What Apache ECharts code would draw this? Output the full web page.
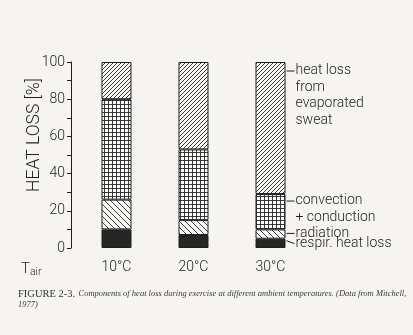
<!DOCTYPE html>
<html>
<head>
<meta charset="utf-8">
<script src="https://cdn.jsdelivr.net/npm/echarts@6/dist/echarts.min.js"></script>
<style>
  html, body { margin: 0; padding: 0; background: #f5f4f1; }
  #chart { width: 413px; height: 335px; }
</style>
</head>
<body>
<div id="chart"></div>
<script>
// Components of heat loss (% of total) at three ambient temperatures
const categories = ['10°C', '20°C', '30°C'];
const respir     = [10, 7, 5];
const radiation  = [16, 8, 5];
const convection = [54, 38, 19];
const sweat      = [20, 47, 71];
const yTicks     = [0, 20, 40, 60, 80, 100];

const PAPER = '#f5f4f1';
const INK = '#1f1f1f';
const FONT = 'Roboto';

// Small repeating tiles for the hatched fills
function tile(size, draw) {
  const c = document.createElement('canvas');
  c.width = size; c.height = size;
  const g = c.getContext('2d');
  g.fillStyle = '#fbfaf7';
  g.fillRect(0, 0, size, size);
  g.strokeStyle = '#262626';
  g.lineWidth = 0.9;
  draw(g, size);
  return c;
}
function forwardHatch(s) {          // "/" lines
  return tile(s, (g, n) => {
    g.beginPath();
    g.moveTo(0, n); g.lineTo(n, 0);
    g.moveTo(-1, 1); g.lineTo(1, -1);
    g.moveTo(n - 1, n + 1); g.lineTo(n + 1, n - 1);
    g.stroke();
  });
}
function backHatch(s) {             // "\" lines
  return tile(s, (g, n) => {
    g.beginPath();
    g.moveTo(0, 0); g.lineTo(n, n);
    g.moveTo(n - 1, -1); g.lineTo(n + 1, 1);
    g.moveTo(-1, n - 1); g.lineTo(1, n + 1);
    g.stroke();
  });
}
function crossGrid(s) {             // square mesh
  return tile(s, (g, n) => {
    g.beginPath();
    g.moveTo(0, 0.5); g.lineTo(n, 0.5);
    g.moveTo(0.5, 0); g.lineTo(0.5, n);
    g.stroke();
  });
}

const fills = {
  respir: '#262626',
  radiation: { image: backHatch(6), repeat: 'repeat' },
  convection: { image: crossGrid(4), repeat: 'repeat' },
  sweat: { image: forwardHatch(4), repeat: 'repeat' }
};

function seg(name, data, color) {
  return {
    name, type: 'bar', stack: 'total', data,
    barWidth: 30,
    itemStyle: { color, borderColor: INK, borderWidth: 1 },
    emphasis: { disabled: true }
  };
}

const chart = echarts.init(document.getElementById('chart'), null, { renderer: 'canvas' });

const option = {
  backgroundColor: PAPER,
  animation: false,
  grid: { left: 78, top: 62, width: 231, height: 186 },
  xAxis: {
    type: 'category',
    data: categories,
    axisLine: { show: false },
    axisTick: { show: false },
    axisLabel: { color: INK, fontFamily: FONT, fontWeight: 300, fontSize: 14, margin: 12 }
  },
  yAxis: {
    type: 'value',
    min: 0, max: 100, interval: 10,
    offset: 7,
    axisLine: { show: true, lineStyle: { color: INK, width: 1 } },
    axisTick: { show: true, length: 4, lineStyle: { color: INK, width: 1 } },
    splitLine: { show: false },
    axisLabel: {
      color: INK, fontFamily: FONT, fontWeight: 300, fontSize: 14, margin: 6,
      formatter: v => (yTicks.includes(v) ? String(v) : '')
    }
  },
  series: [
    seg('respir. heat loss', respir, fills.respir),
    seg('radiation', radiation, fills.radiation),
    seg('convection + conduction', convection, fills.convection),
    seg('heat loss from evaporated sweat', sweat, fills.sweat)
  ]
};
chart.setOption(option);

// Callouts beside the 30 °C column, anchored to its segments
const last = categories.length - 1;
const px = (v) => chart.convertToPixel({ gridIndex: 0 }, [last, v]);
const barRight = px(0)[0] + 15;
const cum = (i) => respir[last] + (i > 0 ? radiation[last] : 0) + (i > 1 ? convection[last] : 0) + (i > 2 ? sweat[last] : 0);

const txt = { fill: INK, fontFamily: FONT, fontWeight: 300, fontSize: 14, lineHeight: 16.5 };
const callouts = [
  { y: px(cum(3))[1] + 9,  lines: 'heat loss\nfrom\nevaporated\nsweat' },
  { y: px(cum(2))[1] + 7,  lines: 'convection\n+ conduction' },
  { y: px(cum(1))[1] + 4,  lines: 'radiation' },
  { y: px(cum(0))[1] + 5,  lines: 'respir. heat loss', fromY: px(cum(0))[1] + 2 }
];
const graphics = [];
callouts.forEach(c => {
  const y0 = c.fromY !== undefined ? c.fromY : c.y;
  graphics.push({
    type: 'line', silent: true,
    shape: { x1: barRight + 1, y1: y0, x2: barRight + 9, y2: c.y },
    style: { stroke: INK, lineWidth: 1 }
  });
  graphics.push({
    type: 'text', silent: true, x: barRight + 10, y: c.y - 8.5,
    style: Object.assign({ text: c.lines, textVerticalAlign: 'top' }, txt)
  });
});

// Axis title and the temperature row heading
graphics.push({
  type: 'text', silent: true, x: 35, y: 135, rotation: Math.PI / 2,
  style: { text: 'HEAT LOSS [%]', fill: INK, fontFamily: FONT, fontWeight: 300, fontSize: 17.5,
           align: 'center', verticalAlign: 'middle' }
});
graphics.push({
  type: 'text', silent: true, x: 21, y: 260,
  style: {
    text: '{t|T}{s|air}',
    rich: {
      t: { fill: INK, fontFamily: FONT, fontWeight: 300, fontSize: 15 },
      s: { fill: INK, fontFamily: FONT, fontWeight: 300, fontSize: 10.5, padding: [7, 0, 0, 0] }
    }
  }
});

// Figure caption
graphics.push({
  type: 'text', silent: true, x: 18, y: 288,
  style: {
    text: '{f|FIGURE 2-3.} {c|Components of heat loss during exercise at different ambient temperatures. (Data from Mitchell,}\n{c|1977)}',
    rich: {
      f: { fill: '#333', fontFamily: 'Liberation Serif', fontSize: 10.5, lineHeight: 10 },
      c: { fill: '#3a3a3a', fontFamily: 'Liberation Serif', fontStyle: 'italic', fontSize: 8.5, lineHeight: 10 }
    }
  }
});

chart.setOption({ graphic: graphics });
</script>
</body>
</html>
